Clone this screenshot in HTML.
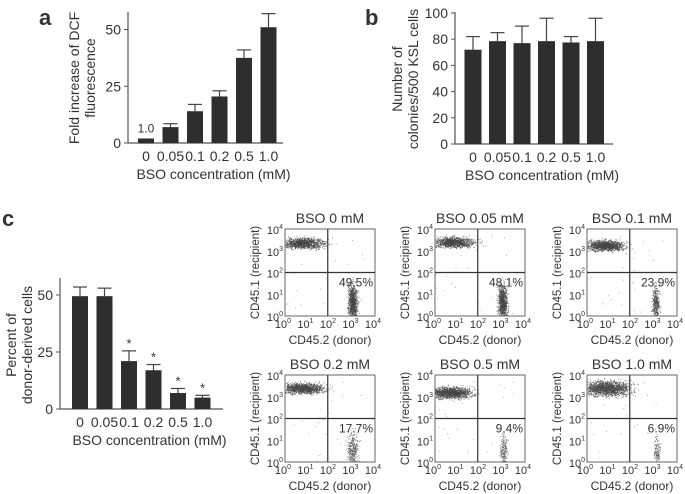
<!DOCTYPE html>
<html><head><meta charset="utf-8"><style>
html,body{margin:0;padding:0;background:#fff;}
svg{display:block;font-family:"Liberation Sans",sans-serif;}
text{fill:#333;}
</style></head><body>
<svg id="fig" width="685" height="494" viewBox="0 0 685 494"></svg>
<script>
const cats = ["0","0.05","0.1","0.2","0.5","1.0"];
const aVals = [2, 7, 14, 20.5, 37.5, 51];
const aErr = [0, 8.5, 17, 23, 41, 57];
const bVals = [72, 78.5, 77, 78.5, 77.5, 78.5];
const bErr = [82, 85, 90, 96, 82, 96];
const cVals = [49.5, 49.5, 21, 17, 7, 5];
const cErr = [53.5, 53, 25.5, 19.5, 9, 6];
const cStar = [false, false, true, true, true, true];
const aTicks = [0, 25, 50];
const bTicks = [0, 20, 40, 60, 80, 100];
const cTicks = [0, 25, 50];
const flowTitles = ["BSO 0 mM","BSO 0.05 mM","BSO 0.1 mM","BSO 0.2 mM","BSO 0.5 mM","BSO 1.0 mM"];
const flowPct = ["49.5%","48.1%","23.9%","17.7%","9.4%","6.9%"];
// clusters: [xCenter(log), yCenter(log), xSpread, ySpread, count]
const recipCluster = [[0.8,3.35,0.45,0.12,1100],[0.8,3.4,0.45,0.12,1100],[0.8,3.25,0.4,0.12,1200],[0.8,3.4,0.45,0.12,1200],[0.7,3.2,0.45,0.13,1300],[0.9,3.4,0.5,0.17,1500]];
const donorCluster = [[3.0,0.65,0.1,0.42,900],[3.0,0.65,0.1,0.42,850],[3.05,0.6,0.08,0.38,350],[3.0,0.5,0.12,0.42,320],[3.05,0.5,0.08,0.42,180],[3.1,0.45,0.07,0.38,120]];
const quadX = 1.9, quadY = 2.0;

const NS = "http://www.w3.org/2000/svg";
const svg = document.getElementById("fig");
function el(tag, attrs, parent, txt){
  const e = document.createElementNS(NS, tag);
  for (const k in attrs) e.setAttribute(k, attrs[k]);
  if (txt !== undefined) e.textContent = txt;
  (parent || svg).appendChild(e);
  return e;
}
function barChart(cfg){
  const g = el("g", {});
  
  
  const y = v => cfg.y0 - (v - 0) * cfg.ppu;
  const x = i => cfg.x0 + cfg.bx0 + i * cfg.step;
  const axY = el("line", {x1:cfg.x0, y1:cfg.y0, x2:cfg.x0, y2:cfg.top, stroke:"#555", "stroke-width":1.2}, g);
  
  
  const axX = el("line", {x1:cfg.x0, y1:cfg.y0, x2:cfg.xEnd, y2:cfg.y0, stroke:"#555", "stroke-width":1.2}, g);
  
  
  cfg.ticks.forEach(t => {
    el("line", {x1:cfg.x0-4, y1:y(t), x2:cfg.x0, y2:y(t), stroke:"#555"}, g);
    const tl = el("text", {x:cfg.x0-7, y:y(t)+5, "text-anchor":"end", "font-size":14}, g, t);
    
    
  });
  cfg.vals.forEach((v, i) => {
    const cx = x(i);
    el("line", {x1:cx, y1:y(v), x2:cx, y2:y(cfg.err[i]), stroke:"#444", "stroke-width":1.2}, g);
    el("line", {x1:cx-7, y1:y(cfg.err[i]), x2:cx+7, y2:y(cfg.err[i]), stroke:"#444", "stroke-width":1.2}, g);
    const b = el("rect", {x:cx-cfg.bw/2, y:y(v), width:cfg.bw, height:cfg.y0-y(v), fill:"#2e2e2e"}, g);
    
    
    const xl = el("text", {x:cx, y:cfg.y0+18, "text-anchor":"middle", "font-size":14}, g, cats[i]);
    
    
    if (cfg.stars && cfg.stars[i]) {
      const s = el("text", {x:cx, y:y(cfg.err[i])-3, "text-anchor":"middle", "font-size":13}, g, "*");
      
      
    }
  });
  const xt = el("text", {x:(cfg.x0+cfg.xEnd)/2+8, y:cfg.y0+36, "text-anchor":"middle", "font-size":14}, g, "BSO concentration (mM)");
  
  
  cfg.ytitle.forEach((line, k) => {
    const tx = cfg.ytx + k*16, ty = cfg.yty;
    const t = el("text", {x:tx, y:ty, "text-anchor":"middle", "font-size":14, transform:`rotate(-90 ${tx} ${ty})`}, g, line);
    
    
  });
  return {g, x, y};
}
function letter(t, x, y){
  const e = el("text", {x, y, "font-size":22, "font-weight":"bold", fill:"#222"}, svg, t);
  
  
}
letter("a", 39, 25); letter("b", 365, 25); letter("c", 2, 226);

const A = barChart({name:"panel-a-chart", x0:128, y0:143, top:12, xEnd:283, ppu:2.27, bx0:18, step:24.5, bw:16, vals:aVals, err:aErr, ticks:aTicks, ytitle:["Fold increase of DCF","fluorescence"], ytx:79, yty:78});
const lab = el("text", {x:A.x(0), y:A.y(aVals[0])-6, "text-anchor":"middle", "font-size":12}, A.g, "1.0");


barChart({name:"panel-b-chart", x0:455, y0:144, top:12, xEnd:613, ppu:1.31, bx0:18, step:24.5, bw:17, vals:bVals, err:bErr, ticks:bTicks, ytitle:["Number of","colonies/500 KSL cells"], ytx:402, yty:79});
barChart({name:"panel-c-chart", x0:60, y0:409, top:278, xEnd:223, ppu:2.28, bx0:20, step:24.5, bw:16, vals:cVals, err:cErr, ticks:cTicks, stars:cStar, ytitle:["Percent of","donor-derived cells"], ytx:16, yty:345});

// seeded PRNG for rendering cluster point clouds
let seed = 12345;
function rnd(){ seed = (seed * 1103515245 + 12345) & 0x7fffffff; return seed / 0x7fffffff; }
function gauss(){ return (rnd()+rnd()+rnd()+rnd()-2) / 0.58; }

const lefts = [285, 435, 587], tops = [229, 375], W = 90, H = 87;
flowTitles.forEach((title, i) => {
  const bx = lefts[i%3], by = tops[Math.floor(i/3)];
  const g = el("g", {});
  
  
  const fx = v => bx + v / 4 * W;
  const fy = v => by + H - v / 4 * H;
  const tt = el("text", {x:bx+W/2, y:by-6, "text-anchor":"middle", "font-size":14}, g, title);
  
  
  const dots = el("g", {fill:"#444"}, g);
  
  
  const clusters = [recipCluster[i], donorCluster[i]];
  clusters.forEach(c => {
    for (let n = 0; n < c[4]; n++) {
      let px = c[0] + gauss()*c[2], py = c[1] + gauss()*c[3];
      if (px < 0.02 || px > 3.98 || py < 0.02 || py > 3.98) continue;
      el("rect", {x:fx(px).toFixed(1), y:fy(py).toFixed(1), width:0.9, height:0.9, "fill-opacity":0.7}, dots);
    }
  });
  for (let n = 0; n < 25; n++) {
    el("rect", {x:fx(rnd()*3.5).toFixed(1), y:fy(rnd()*3.8).toFixed(1), width:0.8, height:0.8, fill:"#888"}, dots);
  }
  const box = el("rect", {x:bx, y:by, width:W, height:H, fill:"none", stroke:"#666", "stroke-width":1}, g);
  
  
  el("line", {x1:fx(quadX), y1:by, x2:fx(quadX), y2:by+H, stroke:"#333", "stroke-width":1.2}, g);
  el("line", {x1:bx, y1:fy(quadY), x2:bx+W, y2:fy(quadY), stroke:"#333", "stroke-width":1.2}, g);
  const pt = el("text", {x:bx+W-2, y:fy(quadY)+14, "text-anchor":"end", "font-size":12}, g, flowPct[i]);
  
  
  for (let d = 0; d <= 4; d++) {
    const yl = el("text", {x:bx-2, y:fy(d)+5, "text-anchor":"end", "font-size":11}, g);
    
    
    el("tspan", {}, yl, "10");
    el("tspan", {dy:-5, "font-size":7}, yl, String(d));
    const xl = el("text", {x:fx(d)-2, y:by+H+12, "text-anchor":"middle", "font-size":11}, g);
    
    
    el("tspan", {}, xl, "10");
    el("tspan", {dy:-5, "font-size":7}, xl, String(d));
  }
  const xt = el("text", {x:bx+W/2, y:by+H+28, "text-anchor":"middle", "font-size":12}, g, "CD45.2 (donor)");
  
  
  const tx = bx-26, ty = by+H/2;
  const yt = el("text", {x:tx, y:ty, "text-anchor":"middle", "font-size":11.5, transform:`rotate(-90 ${tx} ${ty})`}, g, "CD45.1 (recipient)");
  
  
});
</script>
</body></html>
